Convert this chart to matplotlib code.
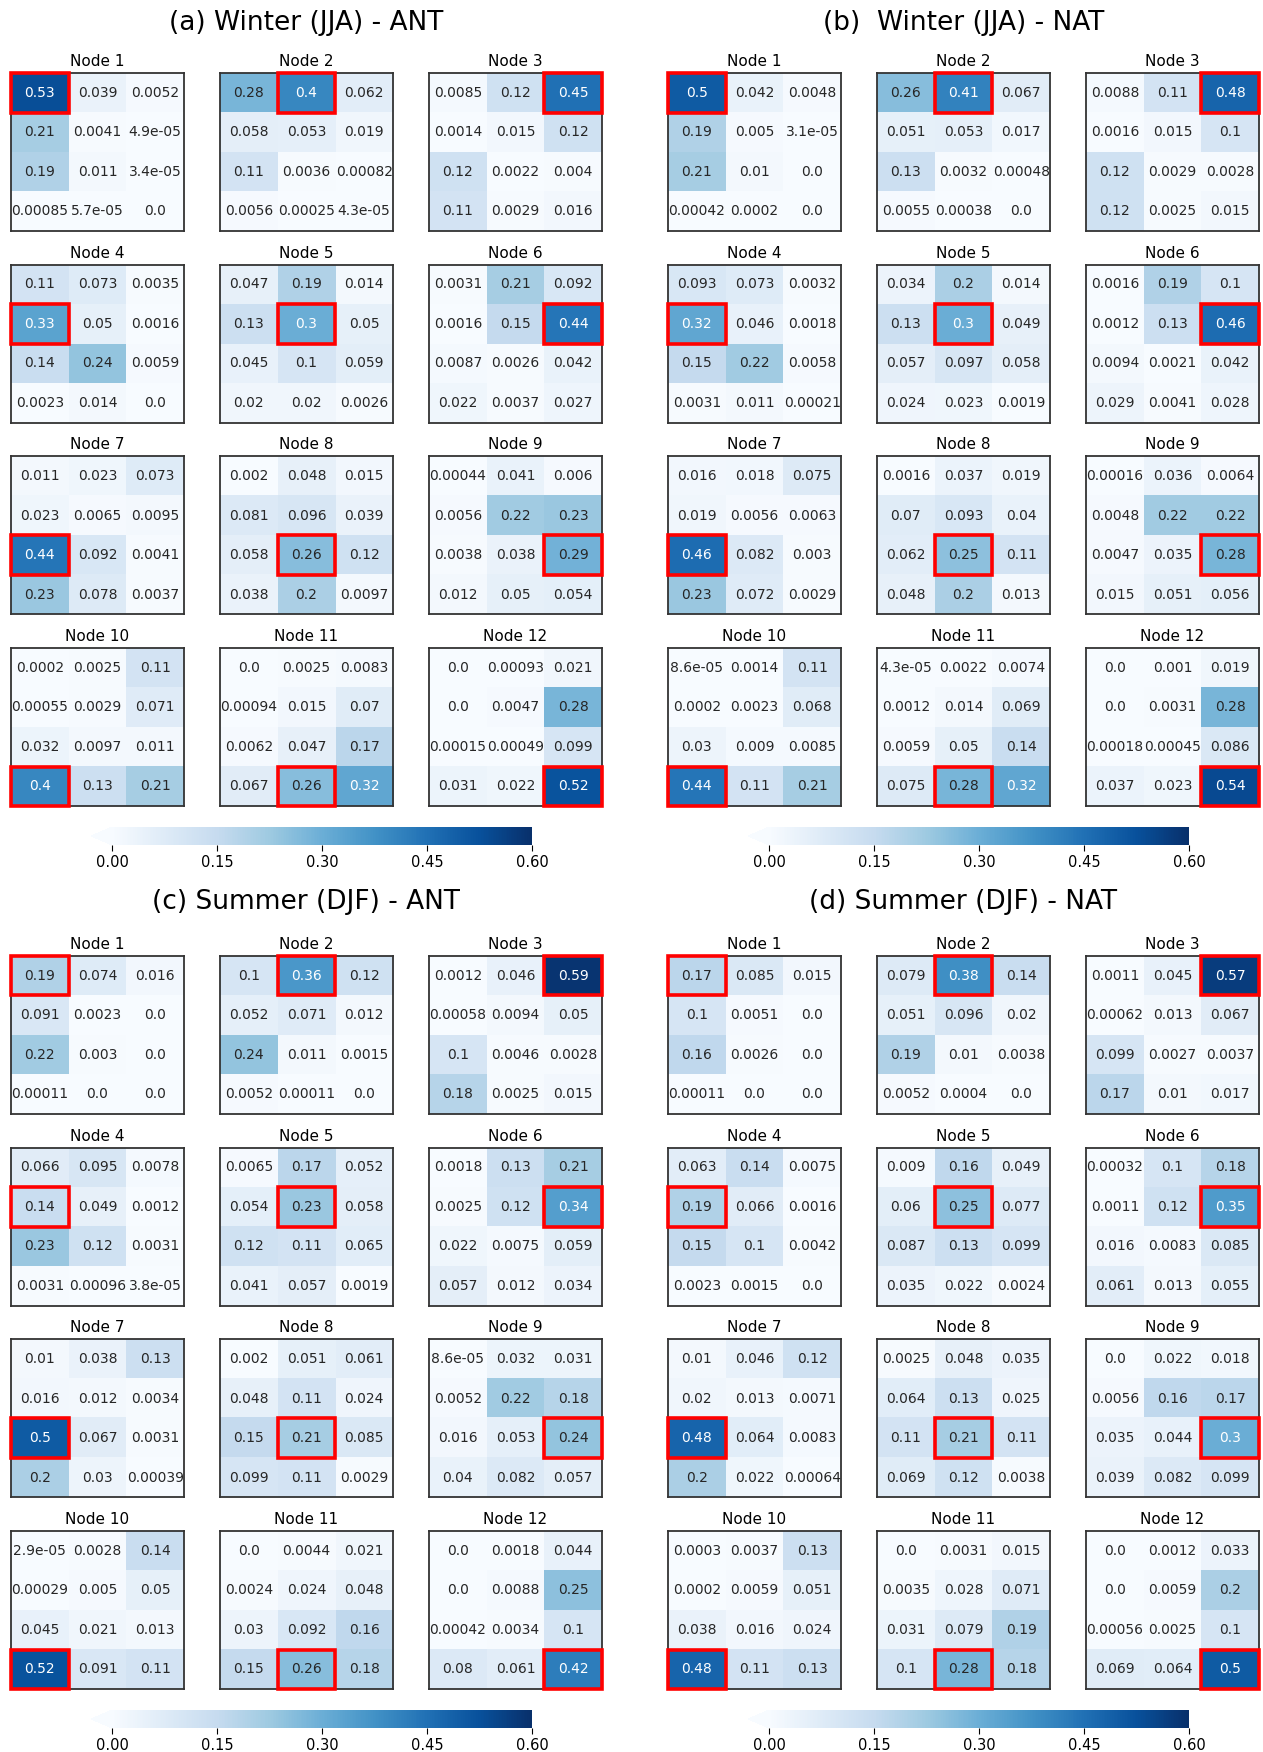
import numpy as np
import matplotlib
matplotlib.use("Agg")
import matplotlib.pyplot as plt
import matplotlib as mpl
from matplotlib.patches import Rectangle

# frequency tables per node (4 rows x 3 cols)
winter_ant = [
    [[0.53, 0.039, 0.0052], [0.21, 0.0041, 4.9e-05], [0.19, 0.011, 3.4e-05], [0.00085, 5.7e-05, 0.0]],
    [[0.28, 0.4, 0.062], [0.058, 0.053, 0.019], [0.11, 0.0036, 0.00082], [0.0056, 0.00025, 4.3e-05]],
    [[0.0085, 0.12, 0.45], [0.0014, 0.015, 0.12], [0.12, 0.0022, 0.004], [0.11, 0.0029, 0.016]],
    [[0.11, 0.073, 0.0035], [0.33, 0.05, 0.0016], [0.14, 0.24, 0.0059], [0.0023, 0.014, 0.0]],
    [[0.047, 0.19, 0.014], [0.13, 0.3, 0.05], [0.045, 0.1, 0.059], [0.02, 0.02, 0.0026]],
    [[0.0031, 0.21, 0.092], [0.0016, 0.15, 0.44], [0.0087, 0.0026, 0.042], [0.022, 0.0037, 0.027]],
    [[0.011, 0.023, 0.073], [0.023, 0.0065, 0.0095], [0.44, 0.092, 0.0041], [0.23, 0.078, 0.0037]],
    [[0.002, 0.048, 0.015], [0.081, 0.096, 0.039], [0.058, 0.26, 0.12], [0.038, 0.2, 0.0097]],
    [[0.00044, 0.041, 0.006], [0.0056, 0.22, 0.23], [0.0038, 0.038, 0.29], [0.012, 0.05, 0.054]],
    [[0.0002, 0.0025, 0.11], [0.00055, 0.0029, 0.071], [0.032, 0.0097, 0.011], [0.4, 0.13, 0.21]],
    [[0.0, 0.0025, 0.0083], [0.00094, 0.015, 0.07], [0.0062, 0.047, 0.17], [0.067, 0.26, 0.32]],
    [[0.0, 0.00093, 0.021], [0.0, 0.0047, 0.28], [0.00015, 0.00049, 0.099], [0.031, 0.022, 0.52]],
]

winter_nat = [
    [[0.5, 0.042, 0.0048], [0.19, 0.005, 3.1e-05], [0.21, 0.01, 0.0], [0.00042, 0.0002, 0.0]],
    [[0.26, 0.41, 0.067], [0.051, 0.053, 0.017], [0.13, 0.0032, 0.00048], [0.0055, 0.00038, 0.0]],
    [[0.0088, 0.11, 0.48], [0.0016, 0.015, 0.1], [0.12, 0.0029, 0.0028], [0.12, 0.0025, 0.015]],
    [[0.093, 0.073, 0.0032], [0.32, 0.046, 0.0018], [0.15, 0.22, 0.0058], [0.0031, 0.011, 0.00021]],
    [[0.034, 0.2, 0.014], [0.13, 0.3, 0.049], [0.057, 0.097, 0.058], [0.024, 0.023, 0.0019]],
    [[0.0016, 0.19, 0.1], [0.0012, 0.13, 0.46], [0.0094, 0.0021, 0.042], [0.029, 0.0041, 0.028]],
    [[0.016, 0.018, 0.075], [0.019, 0.0056, 0.0063], [0.46, 0.082, 0.003], [0.23, 0.072, 0.0029]],
    [[0.0016, 0.037, 0.019], [0.07, 0.093, 0.04], [0.062, 0.25, 0.11], [0.048, 0.2, 0.013]],
    [[0.00016, 0.036, 0.0064], [0.0048, 0.22, 0.22], [0.0047, 0.035, 0.28], [0.015, 0.051, 0.056]],
    [[8.6e-05, 0.0014, 0.11], [0.0002, 0.0023, 0.068], [0.03, 0.009, 0.0085], [0.44, 0.11, 0.21]],
    [[4.3e-05, 0.0022, 0.0074], [0.0012, 0.014, 0.069], [0.0059, 0.05, 0.14], [0.075, 0.28, 0.32]],
    [[0.0, 0.001, 0.019], [0.0, 0.0031, 0.28], [0.00018, 0.00045, 0.086], [0.037, 0.023, 0.54]],
]

summer_ant = [
    [[0.19, 0.074, 0.016], [0.091, 0.0023, 0.0], [0.22, 0.003, 0.0], [0.00011, 0.0, 0.0]],
    [[0.1, 0.36, 0.12], [0.052, 0.071, 0.012], [0.24, 0.011, 0.0015], [0.0052, 0.00011, 0.0]],
    [[0.0012, 0.046, 0.59], [0.00058, 0.0094, 0.05], [0.1, 0.0046, 0.0028], [0.18, 0.0025, 0.015]],
    [[0.066, 0.095, 0.0078], [0.14, 0.049, 0.0012], [0.23, 0.12, 0.0031], [0.0031, 0.00096, 3.8e-05]],
    [[0.0065, 0.17, 0.052], [0.054, 0.23, 0.058], [0.12, 0.11, 0.065], [0.041, 0.057, 0.0019]],
    [[0.0018, 0.13, 0.21], [0.0025, 0.12, 0.34], [0.022, 0.0075, 0.059], [0.057, 0.012, 0.034]],
    [[0.01, 0.038, 0.13], [0.016, 0.012, 0.0034], [0.5, 0.067, 0.0031], [0.2, 0.03, 0.00039]],
    [[0.002, 0.051, 0.061], [0.048, 0.11, 0.024], [0.15, 0.21, 0.085], [0.099, 0.11, 0.0029]],
    [[8.6e-05, 0.032, 0.031], [0.0052, 0.22, 0.18], [0.016, 0.053, 0.24], [0.04, 0.082, 0.057]],
    [[2.9e-05, 0.0028, 0.14], [0.00029, 0.005, 0.05], [0.045, 0.021, 0.013], [0.52, 0.091, 0.11]],
    [[0.0, 0.0044, 0.021], [0.0024, 0.024, 0.048], [0.03, 0.092, 0.16], [0.15, 0.26, 0.18]],
    [[0.0, 0.0018, 0.044], [0.0, 0.0088, 0.25], [0.00042, 0.0034, 0.1], [0.08, 0.061, 0.42]],
]

summer_nat = [
    [[0.17, 0.085, 0.015], [0.1, 0.0051, 0.0], [0.16, 0.0026, 0.0], [0.00011, 0.0, 0.0]],
    [[0.079, 0.38, 0.14], [0.051, 0.096, 0.02], [0.19, 0.01, 0.0038], [0.0052, 0.0004, 0.0]],
    [[0.0011, 0.045, 0.57], [0.00062, 0.013, 0.067], [0.099, 0.0027, 0.0037], [0.17, 0.01, 0.017]],
    [[0.063, 0.14, 0.0075], [0.19, 0.066, 0.0016], [0.15, 0.1, 0.0042], [0.0023, 0.0015, 0.0]],
    [[0.009, 0.16, 0.049], [0.06, 0.25, 0.077], [0.087, 0.13, 0.099], [0.035, 0.022, 0.0024]],
    [[0.00032, 0.1, 0.18], [0.0011, 0.12, 0.35], [0.016, 0.0083, 0.085], [0.061, 0.013, 0.055]],
    [[0.01, 0.046, 0.12], [0.02, 0.013, 0.0071], [0.48, 0.064, 0.0083], [0.2, 0.022, 0.00064]],
    [[0.0025, 0.048, 0.035], [0.064, 0.13, 0.025], [0.11, 0.21, 0.11], [0.069, 0.12, 0.0038]],
    [[0.0, 0.022, 0.018], [0.0056, 0.16, 0.17], [0.035, 0.044, 0.3], [0.039, 0.082, 0.099]],
    [[0.0003, 0.0037, 0.13], [0.0002, 0.0059, 0.051], [0.038, 0.016, 0.024], [0.48, 0.11, 0.13]],
    [[0.0, 0.0031, 0.015], [0.0035, 0.028, 0.071], [0.031, 0.079, 0.19], [0.1, 0.28, 0.18]],
    [[0.0, 0.0012, 0.033], [0.0, 0.0059, 0.2], [0.00056, 0.0025, 0.1], [0.069, 0.064, 0.5]],
]

panel_titles = ["(a) Winter (JJA) - ANT", "(b)  Winter (JJA) - NAT",
                "(c) Summer (DJF) - ANT", "(d) Summer (DJF) - NAT"]
node_names = ["Node %d" % (i + 1) for i in range(12)]
cbar_ticks = [0.0, 0.15, 0.30, 0.45, 0.60]

W, H = 1263, 1752
fig = plt.figure(figsize=(W / 100, H / 100), dpi=100)

def px_axes(x, y, w, h):
    # pixel box (top-left origin) -> figure fraction
    return fig.add_axes([x / W, 1 - (y + h) / H, w / W, h / H])

cmap = plt.get_cmap("Blues")
norm = mpl.colors.Normalize(vmin=0, vmax=0.6)

box_w, box_h = 173, 158
col_step, row_step = 209, 191.7
panels = [winter_ant, winter_nat, summer_ant, summer_nat]
panel_x = [11, 668, 11, 668]
panel_y = [73, 73, 956, 956]
title_y = [23, 23, 902, 902]

for p, data in enumerate(panels):
    x0, y0 = panel_x[p], panel_y[p]
    fig.text((x0 + 295.5) / W, 1 - title_y[p] / H, panel_titles[p],
             ha="center", va="center", fontsize=19)
    for k, node in enumerate(data):
        r, c = divmod(k, 3)
        ax = px_axes(x0 + c * col_step, y0 + r * row_step, box_w, box_h)
        arr = np.array(node)
        ax.imshow(arr, cmap=cmap, norm=norm, aspect="auto", interpolation="nearest")
        for i in range(arr.shape[0]):
            for j in range(arr.shape[1]):
                v = arr[i, j]
                ax.text(j, i, str(node[i][j]), ha="center", va="center",
                        fontsize=10, color="white" if v >= 0.295 else "#262626")
        ax.add_patch(Rectangle((c - 0.5, r - 0.5), 1, 1, fill=False,
                               ec="#ff0000", lw=2.6, clip_on=False, zorder=5))
        ax.set_xticks([])
        ax.set_yticks([])
        for s in ax.spines.values():
            s.set_color("#333333")
            s.set_linewidth(1.3)
        ax.set_title(node_names[k], fontsize=11, pad=5)

# colorbars, one under each column of panels
cbar_y = [827, 827, 1710, 1710]
for p in range(4):
    cax = px_axes(panel_x[p] + 80, cbar_y[p], 441, 18)
    sm = mpl.cm.ScalarMappable(norm=norm, cmap=cmap)
    cb = fig.colorbar(sm, cax=cax, orientation="horizontal", extend="min",
                      ticks=cbar_ticks, format="%.2f")
    cb.outline.set_visible(False)
    cb.ax.tick_params(labelsize=10.5, length=4, width=0.8)

fig.savefig("out.png", dpi=100)
